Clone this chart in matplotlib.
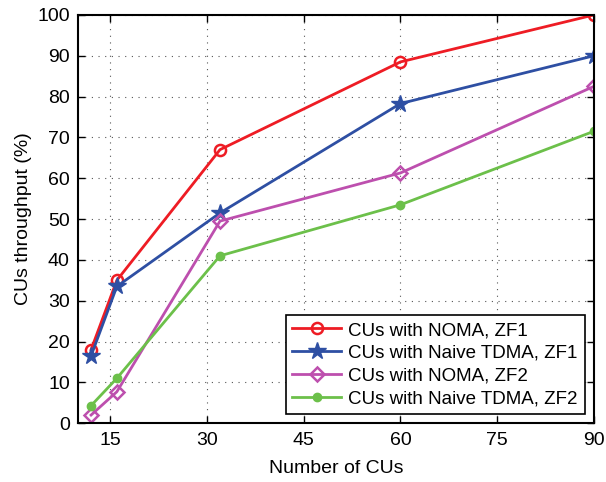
import matplotlib
matplotlib.use("Agg")
import matplotlib.pyplot as plt

plt.rcParams['font.family'] = ['Liberation Sans', 'DejaVu Sans']

# number of CUs and throughput (%) for each scheme
num_cus = [12, 16, 32, 60, 90]
noma_zf1 = [18, 35, 67, 88.5, 100]
tdma_zf1 = [16.5, 33.5, 51.5, 78.3, 90]
noma_zf2 = [2, 7.7, 49.5, 61.3, 82.5]
tdma_zf2 = [4.3, 11, 41, 53.5, 71.5]

labels = ['CUs with NOMA, ZF1', 'CUs with Naive TDMA, ZF1',
          'CUs with NOMA, ZF2', 'CUs with Naive TDMA, ZF2']
x_ticks = [15, 30, 45, 60, 75, 90]
y_ticks = list(range(0, 101, 10))

fig = plt.figure(figsize=(6.06, 4.82), dpi=100)
ax = fig.add_axes([0.129, 0.122, 0.851, 0.847])

ax.plot(num_cus, noma_zf1, color='#ee1c24', lw=2, marker='o', ms=8,
        mfc='none', mew=1.8, label=labels[0])
ax.plot(num_cus, tdma_zf1, color='#2e4fa3', lw=2, marker='*', ms=13,
        label=labels[1])
ax.plot(num_cus, noma_zf2, color='#bd4fae', lw=2, marker='D', ms=7,
        mfc='none', mew=1.8, label=labels[2])
ax.plot(num_cus, tdma_zf2, color='#6cc04a', lw=2, marker='o', ms=6,
        label=labels[3])

ax.set_xlim(10, 90)
ax.set_ylim(0, 100)
ax.set_xticks(x_ticks)
ax.set_yticks(y_ticks)
ax.tick_params(direction='in', top=True, right=True, length=5, width=1,
               labelsize=14, pad=6)
ax.grid(True, linestyle=(0, (1, 5)), color='#555555', lw=0.8)
for s in ax.spines.values():
    s.set_linewidth(1.5)

ax.set_xlabel('Number of CUs', fontsize=14, labelpad=8)
ax.set_ylabel('CUs throughput (%)', fontsize=14)

leg = ax.legend(loc='lower right', fontsize=13.5, frameon=True, fancybox=False,
                edgecolor='black', framealpha=1, handlelength=2.6,
                borderaxespad=0.5, labelspacing=0.3, handletextpad=0.4,
                borderpad=0.35)
leg.get_frame().set_linewidth(1.2)

fig.savefig('out.png', dpi=100)
